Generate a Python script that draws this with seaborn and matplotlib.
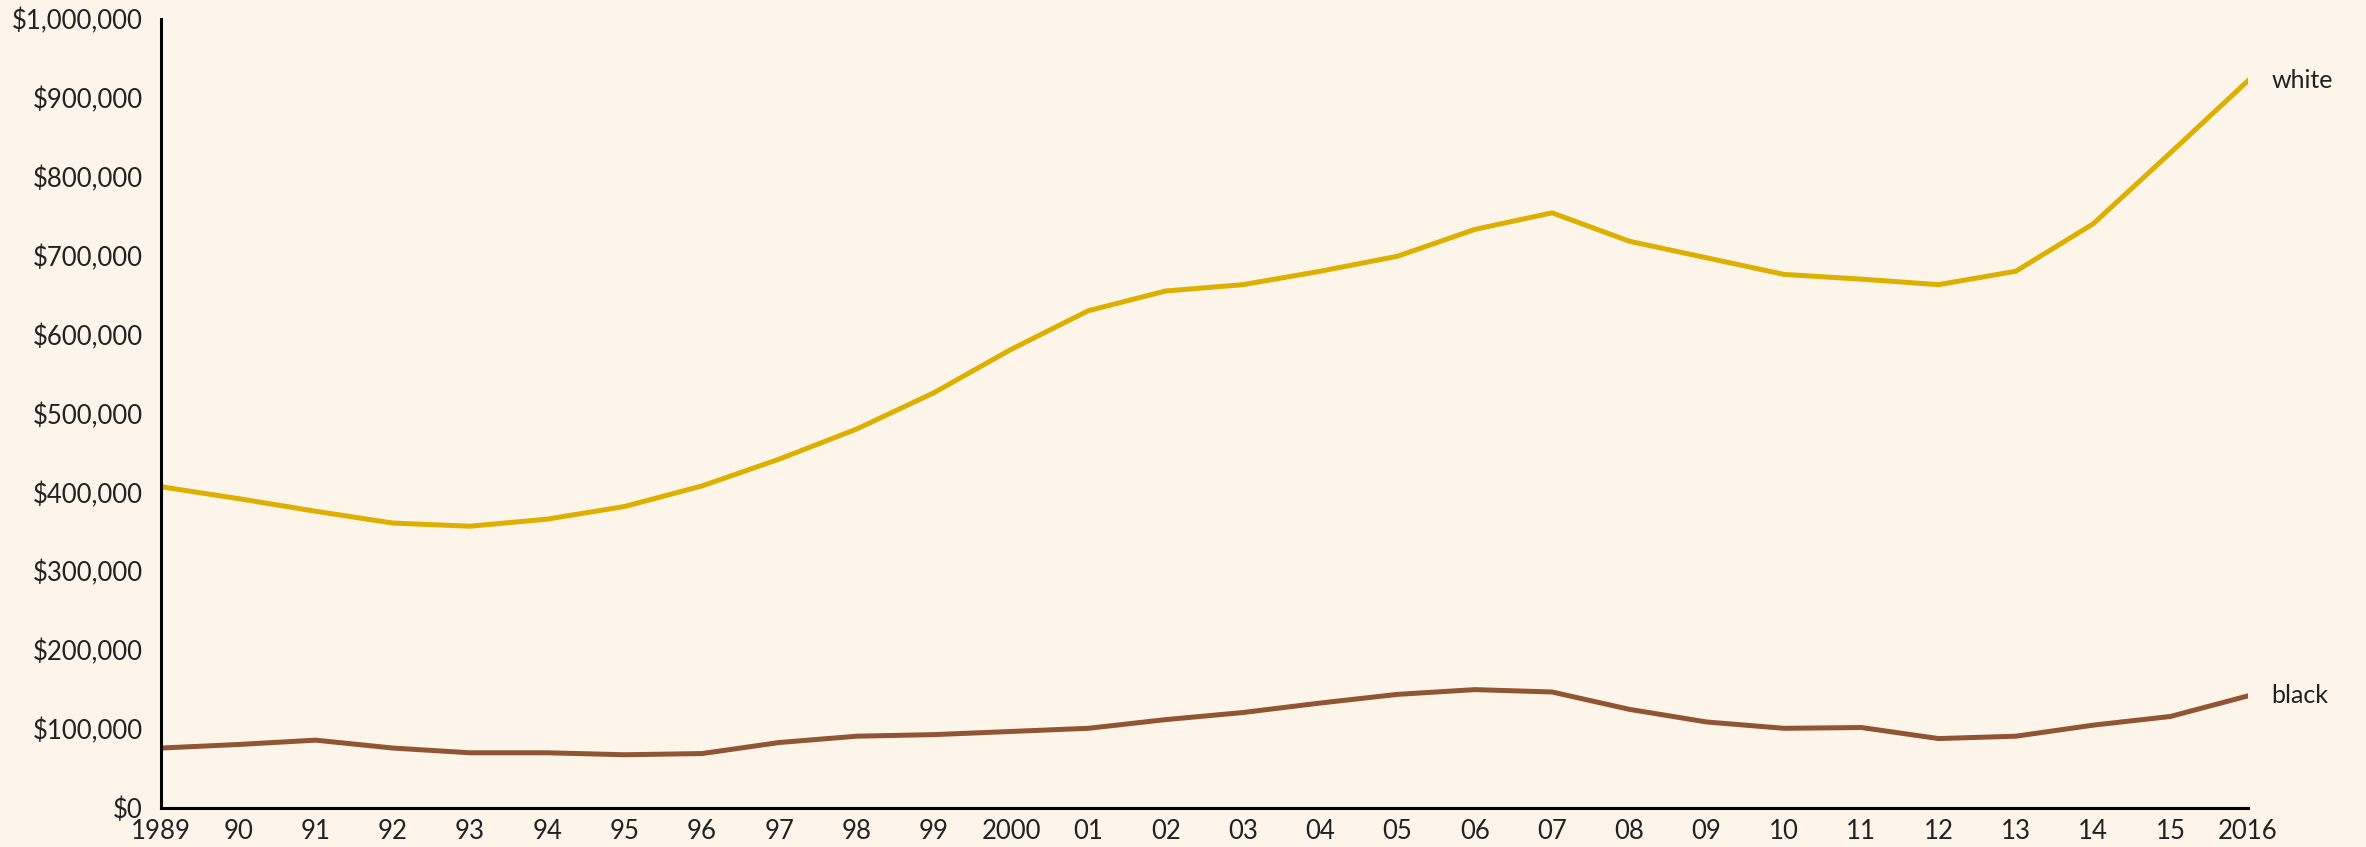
import matplotlib
matplotlib.use('Agg')
import matplotlib.pyplot as plt
import seaborn as sns
import pandas as pd
import numpy as np
from matplotlib.ticker import FuncFormatter

# median family wealth by race, 1989-2016
years = list(range(1989, 2017))
white = [407000, 392000, 376000, 361000, 357000, 366000, 382000, 408000, 442000, 480000,
         526000, 581000, 630000, 655000, 663000, 680000, 699000, 733000, 754000, 718000,
         697000, 676000, 670000, 663000, 680000, 740000, 830000, 921000]
black = [76000, 80500, 86000, 76000, 70000, 70000, 67500, 69000, 83000, 91000,
         93000, 97000, 101000, 112000, 121000, 133000, 144000, 150000, 147000, 125000,
         109000, 101000, 102000, 88000, 91000, 105000, 116000, 142000]
year_labels = ['1989'] + ['%02d' % (y % 100) for y in years[1:-1]]
year_labels[11] = '2000'
year_labels.append('2016')

bg = '#FDF5EA'
colors = {'white': '#DDB000', 'black': '#915533'}

df = pd.DataFrame({'year': years * 2,
                   'value': white + black,
                   'race': ['white'] * len(years) + ['black'] * len(years)})

sns.set_style({'axes.spines.top': False, 'axes.spines.right': False})
plt.rcParams['font.family'] = ['Lato', 'DejaVu Sans']

fig = plt.figure(figsize=(23.66, 8.47), dpi=100, facecolor=bg)
ax = fig.add_axes([0.068, 0.046, 0.882, 0.932])
ax.set_facecolor(bg)

sns.lineplot(data=df, x='year', y='value', hue='race', palette=colors,
             linewidth=3.6, legend=False, ax=ax)

for race, vals in [('white', white), ('black', black)]:
    ax.annotate(race, xy=(years[-1], vals[-1]), xytext=(17, 0), textcoords='offset points',
                va='center', ha='left', fontsize=18, color='#222222')

ax.set_xlim(1989, 2016)
ax.set_ylim(0, 1000000)
ax.set_xticks(years)
ax.set_xticklabels(year_labels)
ax.set_yticks(np.arange(0, 1000001, 100000))
ax.yaxis.set_major_formatter(FuncFormatter(lambda v, p: '${:,.0f}'.format(v)))
ax.tick_params(length=0, labelsize=18.5, labelcolor='#222222')
ax.tick_params(axis='y', pad=13)
ax.tick_params(axis='x', pad=8)
ax.set_xlabel('')
ax.set_ylabel('')
ax.grid(False)
for s in ['left', 'bottom']:
    ax.spines[s].set_color('black')
    ax.spines[s].set_linewidth(2.2)

plt.savefig('out.png', dpi=100, facecolor=bg)
